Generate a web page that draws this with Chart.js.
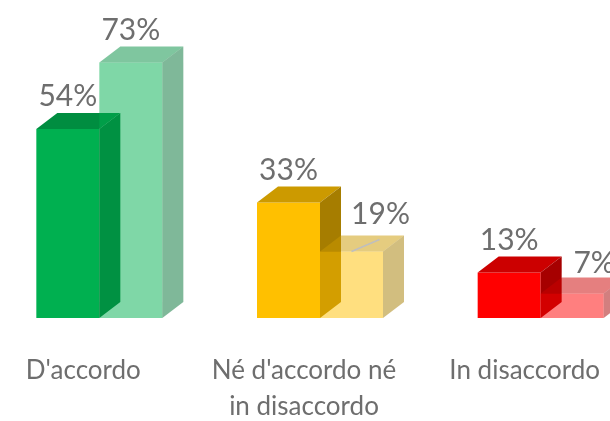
<!DOCTYPE html>
<html>
<head>
<meta charset="utf-8">
<script src="https://cdn.jsdelivr.net/npm/chart.js@4"></script>
<style>
    html, body { margin: 0; padding: 0; background: #fff; overflow: hidden; }
    #wrap { position: relative; width: 610px; height: 421px; overflow: hidden; }
    #chart { position: absolute; left: -11px; top: 0; }
</style>
</head>
<body>
<div id="wrap"><canvas id="chart" width="662" height="421"></canvas></div>
<script>
var categories = [["D'accordo"], ["Né d'accordo né", "in disaccordo"], ["In disaccordo"]];
var seriesA = [54, 33, 13];
var seriesB = [73, 19, 7];
var barColors = ["#00B050", "#FFC000", "#FF0000"];

var textColor = "#6e6e6e";
var fontFamily = "Lato, 'Open Sans', sans-serif";

// Darken a hex colour by a factor and give it an alpha.
function shade(hex, f, alpha) {
    var r = parseInt(hex.slice(1, 3), 16);
    var g = parseInt(hex.slice(3, 5), 16);
    var b = parseInt(hex.slice(5, 7), 16);
    return "rgba(" + Math.round(r * f) + "," + Math.round(g * f) + "," + Math.round(b * f) + "," + alpha + ")";
}

// Draw each bar as a box (front, top, side) plus its value label.
const bar3d = {
    id: 'bar3d',
    afterDatasetsDraw(chart, args, opts) {
        const ctx = chart.ctx;
        const dx = opts.depthX, dy = opts.depthY;
        const boxes = [];
        chart.data.datasets.forEach((ds, di) => {
            const meta = chart.getDatasetMeta(di);
            meta.data.forEach((bar, i) => {
                const p = bar.getProps(['x', 'y', 'base', 'width'], true);
                const l = p.x - p.width / 2, r = p.x + p.width / 2;
                const col = barColors[i];
                const a = ds.faceAlpha;
                ctx.save();
                ctx.fillStyle = shade(col, 1, a);
                ctx.fillRect(l, p.y, p.width, p.base - p.y);
                ctx.beginPath();
                ctx.moveTo(l, p.y);
                ctx.lineTo(l + dx, p.y + dy);
                ctx.lineTo(r + dx, p.y + dy);
                ctx.lineTo(r, p.y);
                ctx.closePath();
                ctx.fillStyle = shade(col, 0.8, a);
                ctx.fill();
                ctx.beginPath();
                ctx.moveTo(r, p.y);
                ctx.lineTo(r + dx, p.y + dy);
                ctx.lineTo(r + dx, p.base + dy);
                ctx.lineTo(r, p.base);
                ctx.closePath();
                ctx.fillStyle = shade(col, 0.65, a);
                ctx.fill();
                ctx.restore();
                boxes.push({ di: di, i: i, x: p.x, y: p.y, value: ds.data[i] });
            });
        });

        ctx.save();
        ctx.font = opts.labelSize + "px " + fontFamily;
        ctx.fillStyle = textColor;
        ctx.textAlign = 'center';
        ctx.textBaseline = 'alphabetic';
        boxes.forEach(b => {
            let nx = 0, ny = 0;
            const n = opts.nudge.find(o => o.dataset === b.di && o.index === b.i);
            if (n) {
                nx = n.dx; ny = n.dy;
            }
            const ty = b.y + dy - opts.labelGap + ny;
            if (n && n.leader) {
                ctx.strokeStyle = '#bfbfbf';
                ctx.lineWidth = 1.5;
                ctx.beginPath();
                ctx.moveTo(b.x, b.y);
                ctx.lineTo(b.x + nx - 1, b.y + dy + 4);
                ctx.stroke();
            }
            ctx.fillText(b.value + "%", b.x + nx, ty);
        });
        ctx.restore();
    }
};

const ctx = document.getElementById('chart').getContext('2d');
const myChart = new Chart(ctx, {
    type: 'bar',
    data: {
        labels: categories,
        datasets: [
            { data: seriesA, faceAlpha: 1, backgroundColor: 'rgba(0,0,0,0)', borderWidth: 0, barThickness: 63 },
            { data: seriesB, faceAlpha: 0.5, backgroundColor: 'rgba(0,0,0,0)', borderWidth: 0, barThickness: 63 }
        ]
    },
    options: {
        responsive: false,
        animation: false,
        events: [],
        layout: { padding: { top: 38, left: 0, right: 0, bottom: 0 } },
        plugins: {
            legend: { display: false },
            tooltip: { enabled: false },
            bar3d: {
                depthX: 21,
                depthY: -16,
                labelSize: 30,
                labelGap: 7,
                nudge: [
                    { dataset: 1, index: 1, dx: 29, dy: -5, leader: true },
                    { dataset: 1, index: 2, dx: 22, dy: 2, leader: false }
                ]
            }
        },
        scales: {
            x: {
                grid: { display: false, drawTicks: false },
                border: { display: false },
                ticks: {
                    color: textColor,
                    font: { family: fontFamily, size: 26, lineHeight: 1.4 },
                    padding: 34,
                    labelOffset: -16,
                    autoSkip: false,
                    maxRotation: 0
                },
                afterFit: (scale) => { scale.height = 103; }
            },
            y: { display: false, min: 0, max: 80 }
        }
    },
    plugins: [bar3d]
});
</script>
</body>
</html>
